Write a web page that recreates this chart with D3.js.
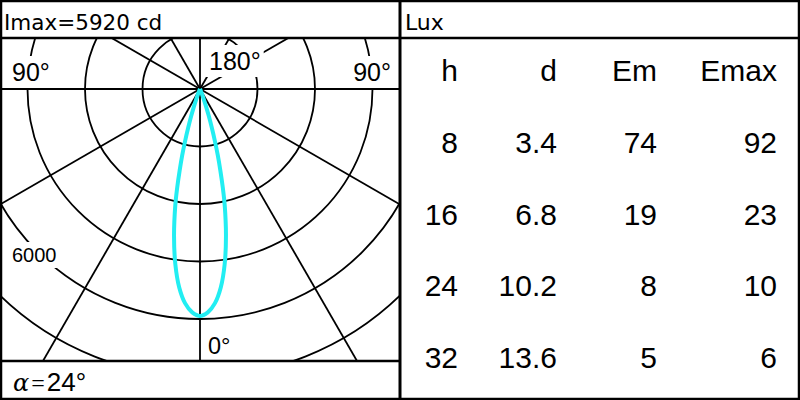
<!DOCTYPE html>
<html>
<head>
<meta charset="utf-8">
<script src="https://cdn.jsdelivr.net/npm/d3@7"></script>
<style>
  body { margin: 0; background: #fff; }
  svg { display: block; }
</style>
</head>
<body>
<div id="chart"></div>
<script>
"use strict";

// luminous intensity curve (cd) by angle from nadir (deg), one half, mirrored
const curveAngles = [0, 2, 4, 6, 8, 10, 12, 13, 14, 15, 16, 17, 18, 19, 20, 22, 25, 30];
const curveValues = [5920, 5830, 5600, 5200, 4620, 3900, 3100, 2650, 2200, 1800, 1400, 1050, 750, 500, 320, 120, 30, 0];

const ringValues = [1500, 3000, 4500, 6000, 7500, 9000];
const spokeAngles = [0, 30, 60, 90, 120, 150, 180, 210, 240, 270, 300, 330];

const headerLeft = "Imax=5920 cd";
const headerRight = "Lux";
const footerText = ["α", "=", "24°"];

const tableColumns = ["h", "d", "Em", "Emax"];
const colH = ["8", "16", "24", "32"];
const colD = ["3.4", "6.8", "10.2", "13.6"];
const colEm = ["74", "19", "8", "5"];
const colEmax = ["92", "23", "10", "6"];

const W = 800, H = 400;
const cx = 200, cy = 89;

const svg = d3.select("#chart").append("svg").attr("width", W).attr("height", H);

svg.append("defs").append("clipPath").attr("id", "polarClip")
  .append("rect").attr("x", 0).attr("y", 38).attr("width", 400).attr("height", 323);

const r = d3.scaleLinear().domain([0, 6000]).range([0, 230]);
const rad = (deg) => (deg * Math.PI) / 180;

const polar = svg.append("g").attr("clip-path", "url(#polarClip)");
const grid = polar.append("g").attr("transform", `translate(${cx},${cy})`);

grid.selectAll("circle.ring")
  .data(ringValues)
  .enter()
  .append("circle")
  .attr("class", "ring")
  .attr("r", (d) => r(d))
  .attr("fill", "none")
  .attr("stroke", "#000")
  .attr("stroke-width", 1.8);

// oblique spokes (axes drawn later on top of label boxes)
grid.selectAll("line.spoke")
  .data(spokeAngles.filter((a) => a % 90 !== 0))
  .enter()
  .append("line")
  .attr("class", "spoke")
  .attr("x1", 0).attr("y1", 0)
  .attr("x2", (a) => Math.sin(rad(a)) * 600)
  .attr("y2", (a) => Math.cos(rad(a)) * 600)
  .attr("stroke", "#000")
  .attr("stroke-width", 1.8);

const labels = [
  { text: "90°", x: 12, y: 81, anchor: "start", size: 25, box: true },
  { text: "90°", x: 391, y: 81, anchor: "end", size: 25, box: true },
  { text: "180°", x: 209, y: 70, anchor: "start", size: 25, box: true },
  { text: "6000", x: 12, y: 262, anchor: "start", size: 20, box: true },
  { text: "0°", x: 208, y: 354, anchor: "start", size: 23.5, box: false }
];

const labelG = polar.append("g");
labels.forEach((l) => {
  const g = labelG.append("g");
  const bg = g.append("rect").attr("fill", "#fff");
  const t = g.append("text")
    .attr("x", l.x).attr("y", l.y)
    .attr("text-anchor", l.anchor)
    .style("font-family", "'Liberation Sans', Arial, sans-serif")
    .style("font-size", l.size + "px")
    .text(l.text);
  if (l.box) {
    const b = t.node().getBBox();
    const pad = 3;
    bg.attr("x", b.x - pad).attr("y", b.y - pad + 1)
      .attr("width", b.width + 2 * pad).attr("height", b.height + 2 * pad - 2);
  } else {
    bg.remove();
  }
});

// main axes over the label boxes
grid.selectAll("line.axis")
  .data(spokeAngles.filter((a) => a % 90 === 0))
  .enter()
  .append("line")
  .attr("class", "axis")
  .attr("x1", 0).attr("y1", 0)
  .attr("x2", (a) => Math.sin(rad(a)) * 600)
  .attr("y2", (a) => Math.cos(rad(a)) * 600)
  .attr("stroke", "#000")
  .attr("stroke-width", 1.8);

// intensity curve, mirrored both sides
const curvePts = [];
for (let i = curveAngles.length - 1; i > 0; i--) {
  curvePts.push([-curveAngles[i], curveValues[i]]);
}
for (let i = 0; i < curveAngles.length; i++) {
  curvePts.push([curveAngles[i], curveValues[i]]);
}

const lobe = d3.lineRadial()
  .angle((d) => Math.PI - rad(d[0]))
  .radius((d) => r(d[1]))
  .curve(d3.curveCatmullRom);

grid.append("path")
  .attr("d", lobe(curvePts))
  .attr("fill", "none")
  .attr("stroke", "#22eef2")
  .attr("stroke-width", 4)
  .attr("stroke-linejoin", "round");

// frame
const frame = svg.append("g").attr("stroke", "#000").attr("fill", "none");
frame.append("rect").attr("x", 1).attr("y", 1).attr("width", W - 2).attr("height", H - 2).attr("stroke-width", 2.5);
frame.append("line").attr("x1", 0).attr("x2", W).attr("y1", 38).attr("y2", 38).attr("stroke-width", 2.5);
frame.append("line").attr("x1", 0).attr("x2", 400).attr("y1", 361).attr("y2", 361).attr("stroke-width", 2.5);
frame.append("line").attr("x1", 400).attr("x2", 400).attr("y1", 0).attr("y2", H).attr("stroke-width", 3);

const headFont = "'DejaVu Sans', Verdana, sans-serif";
svg.append("text").attr("x", 4).attr("y", 30)
  .style("font-family", headFont).style("font-size", "21.5px").text(headerLeft);
svg.append("text").attr("x", 405).attr("y", 30)
  .style("font-family", headFont).style("font-size", "22px").text(headerRight);

const foot = svg.append("text").attr("x", 13).attr("y", 391)
  .style("font-family", "'Liberation Sans', Arial, sans-serif")
  .style("font-size", "26px");
foot.append("tspan")
  .style("font-family", "'DejaVu Serif', serif")
  .style("font-style", "italic")
  .style("font-size", "24px")
  .text(footerText[0]);
foot.append("tspan").attr("dx", 2)
  .style("font-family", "'Liberation Serif', serif")
  .style("font-size", "24px")
  .text(footerText[1]);
foot.append("tspan").attr("dx", 2).text(footerText[2]);

// lux table
const rowY = d3.scalePoint().domain(["head", 0, 1, 2, 3]).range([81, 368]);
const colX = d3.scaleOrdinal().domain(tableColumns).range([458, 557, 657, 777]);
const columns = [colH, colD, colEm, colEmax];

const table = svg.append("g")
  .style("font-family", "'Liberation Sans', Arial, sans-serif")
  .style("font-size", "30px")
  .attr("text-anchor", "end");

table.selectAll("text.head")
  .data(tableColumns)
  .enter()
  .append("text")
  .attr("class", "head")
  .attr("x", (d) => colX(d))
  .attr("y", rowY("head"))
  .text((d) => d);

tableColumns.forEach((c, ci) => {
  table.selectAll("text.c" + ci)
    .data(columns[ci])
    .enter()
    .append("text")
    .attr("class", "c" + ci)
    .attr("x", colX(c))
    .attr("y", (d, i) => rowY(i))
    .text((d) => d);
});
</script>
</body>
</html>
